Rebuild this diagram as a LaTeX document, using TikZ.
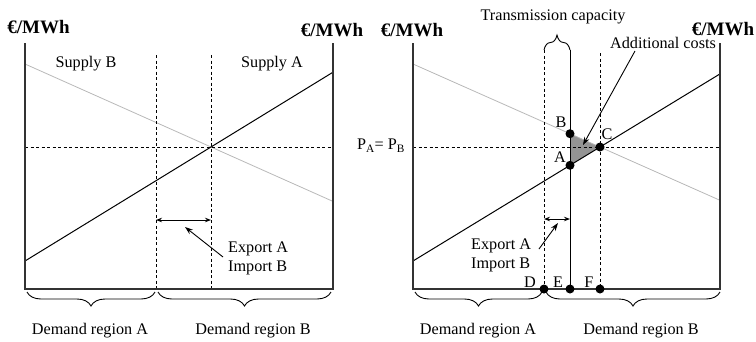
\documentclass[tikz,border=0pt]{standalone}
\usepackage{fontspec}
\setmainfont{Liberation Serif}
\usetikzlibrary{decorations.pathreplacing,arrows.meta}
\begin{document}
\begin{tikzpicture}[x=1pt,y=-1pt,
  font=\fontsize{16.2}{19}\selectfont,
  axis/.style={line width=1.1pt, black!80},
  dline/.style={line width=0.8pt, dash pattern=on 3pt off 2.5pt},
  greyline/.style={line width=0.8pt, black!28},
  supply/.style={line width=1pt},
  capline/.style={line width=1pt},
  brc/.style={decorate, decoration={brace, amplitude=14pt, mirror, aspect=0.5}, line width=0.9pt},
  topbrc/.style={decorate, decoration={brace, amplitude=15pt, aspect=0.5}, line width=0.9pt},
  dot/.style={circle, fill=black, inner sep=0pt, minimum size=9pt},
  lbl/.style={inner sep=0pt},
  unitlbl/.style={font=\fontsize{19}{22}\selectfont\bfseries, inner sep=0pt},
  darr/.style={{Stealth[length=6pt,width=4.5pt]}-{Stealth[length=6pt,width=4.5pt]}, line width=0.9pt},
  parr/.style={-{Stealth[length=8pt,width=5.5pt]}, line width=0.9pt}]
\useasboundingbox (0,0) rectangle (756,341);

% ---------------- left panel ----------------
\coordinate (LTL) at (25,43);
\coordinate (LBL) at (25,289);
\coordinate (LBR) at (333,289);
\coordinate (LTR) at (333,43);
\coordinate (LD1t) at (156,55);
\coordinate (LD1b) at (156,289);
\coordinate (LD2t) at (211,55);
\coordinate (LD2b) at (211,289);
\coordinate (LHl) at (25,147);
\coordinate (LHr) at (333,147);
\coordinate (LGs) at (25,64);
\coordinate (LGe) at (333,201.4);
\coordinate (LKs) at (25,261);
\coordinate (LKe) at (333,72.2);
\coordinate (LX1) at (156,220);
\coordinate (LX2) at (211,220);
\coordinate (LPs) at (223,257);
\coordinate (LPe) at (185,227);
\coordinate (LB1s) at (27,292);
\coordinate (LB1e) at (155,292);
\coordinate (LB2s) at (158,292);
\coordinate (LB2e) at (331,292);

\draw[greyline] (LGs) -- (LGe);
\draw[dline] (LD1t) -- (LD1b);
\draw[dline] (LD2t) -- (LD2b);
\draw[dline] (LHl) -- (LHr);
\draw[supply] (LKs) -- (LKe);
\draw[axis] (LTL) -- (LBL) -- (LBR) -- (LTR);
\draw[darr] (LX1) -- (LX2);
\draw[parr] (LPs) -- (LPe);
\draw[brc] (LB1s) -- (LB1e);
\draw[brc] (LB2s) -- (LB2e);

\node[unitlbl] (lu1) at (38.5,27) {€/MWh};
\node[unitlbl] (lu2) at (332,30) {€/MWh};
\node[lbl] (lsb) at (86,64) {Supply B};
\node[lbl] (lsa) at (272,64) {Supply A};
\node[lbl, align=left, anchor=west] (lexp) at (228,258) {Export A\\Import B};
\node[lbl] (lda) at (90,331) {Demand region A};
\node[lbl] (ldb) at (253,331) {Demand region B};

% ---------------- right panel ----------------
\coordinate (RTL) at (413,43);
\coordinate (RBL) at (413,289);
\coordinate (RBR) at (720,289);
\coordinate (RTR) at (720,43);
\coordinate (RD1t) at (544,50);
\coordinate (RD2t) at (600,53);
\coordinate (RCt) at (570,50);
\coordinate (RHl) at (413,147);
\coordinate (RHr) at (720,147);
\coordinate (RGs) at (413,64);
\coordinate (RGe) at (720,200.3);
\coordinate (RKs) at (413,261);
\coordinate (RKe) at (720,73.9);
\coordinate (PA) at (570,165.3);
\coordinate (PB) at (570,133.7);
\coordinate (PC) at (600,147);
\coordinate (PD) at (544,289);
\coordinate (PE) at (570,289);
\coordinate (PF) at (600,289);
\coordinate (RX1) at (544,219);
\coordinate (RX2) at (570,219);
\coordinate (RPs) at (539,249);
\coordinate (RPe) at (558,223);
\coordinate (RAs) at (635,51);
\coordinate (RAe) at (583,145);
\coordinate (RTBs) at (544,50);
\coordinate (RTBe) at (570,50);
\coordinate (RB1s) at (415,292);
\coordinate (RB1e) at (542,292);
\coordinate (RB2s) at (546,292);
\coordinate (RB2e) at (720,292);

\fill[black!42] (PA) -- (PB) -- (PC) -- cycle;
\draw[greyline] (RGs) -- (RGe);
\draw[dline] (RD1t) -- (PD);
\draw[dline] (RD2t) -- (PF);
\draw[dline] (RHl) -- (RHr);
\draw[capline] (RCt) -- (PE);
\draw[supply] (RKs) -- (RKe);
\draw[axis] (RTL) -- (RBL) -- (RBR) -- (RTR);
\draw[darr] (RX1) -- (RX2);
\draw[parr] (RPs) -- (RPe);
\draw[parr] (RAs) -- (RAe);
\draw[topbrc] (RTBs) -- (RTBe);
\draw[brc] (RB1s) -- (RB1e);
\draw[brc] (RB2s) -- (RB2e);

\node[dot] (dA) at (PA) {};
\node[dot] (dB) at (PB) {};
\node[dot] (dC) at (PC) {};
\node[dot] (dD) at (PD) {};
\node[dot] (dE) at (PE) {};
\node[dot] (dF) at (PF) {};

\node[lbl] (tA) at (560,157) {A};
\node[lbl] (tB) at (561,122) {B};
\node[lbl] (tC) at (607,134) {C};
\node[lbl] (tD) at (530,282) {D};
\node[lbl] (tE) at (558,282) {E};
\node[lbl] (tF) at (589,282) {F};

\node[unitlbl] (ru1) at (412,30) {€/MWh};
\node[unitlbl] (ru2) at (723,29) {€/MWh};
\node[lbl] (rtc) at (553,17) {Transmission capacity};
\node[lbl] (rac) at (663,43) {Additional costs};
\node[lbl] (rpp) at (381,146) {P\textsubscript{A}= P\textsubscript{B}};
\node[lbl, align=left, anchor=west] (rexp) at (471,255) {Export A\\Import B};
\node[lbl] (rda) at (478,331) {Demand region A};
\node[lbl] (rdb) at (641,331) {Demand region B};
\end{tikzpicture}
\end{document}
